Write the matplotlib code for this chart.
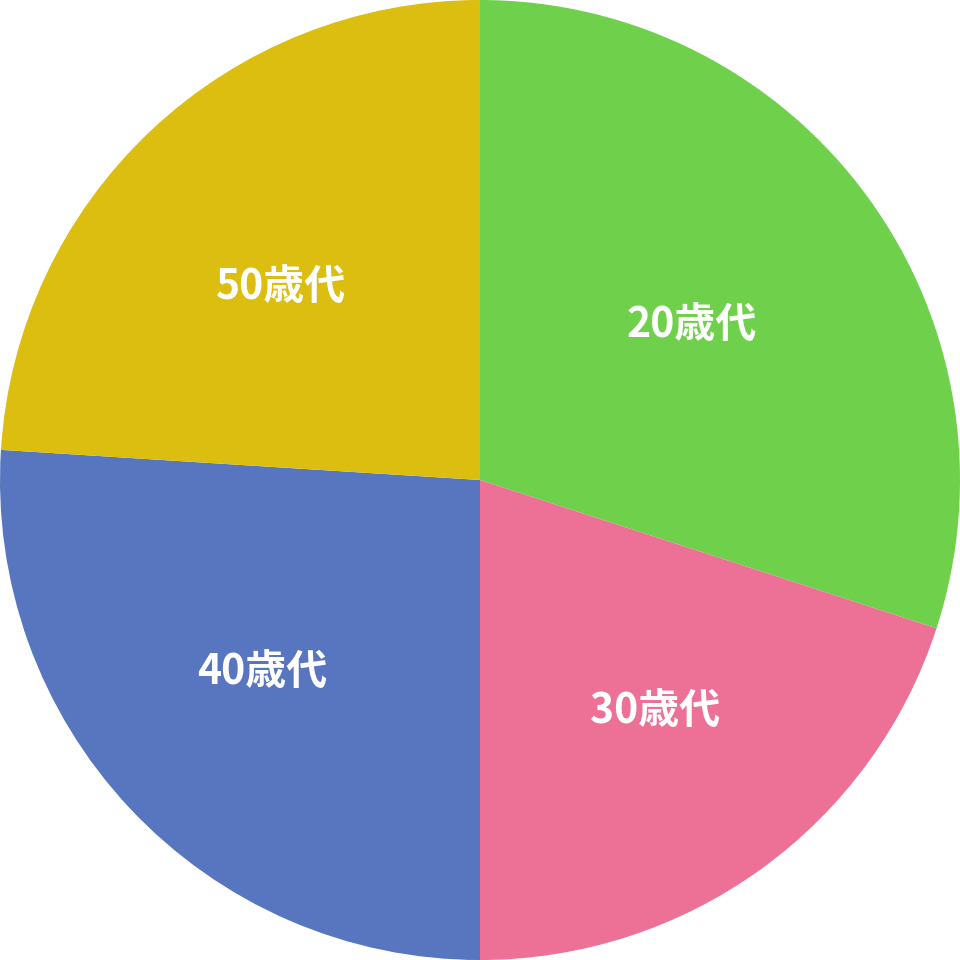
import matplotlib
matplotlib.use("Agg")
import matplotlib.pyplot as plt
import numpy as np

labels = ["20歳代", "30歳代", "40歳代", "50歳代"]
values = [30, 20, 26, 24]
colors = ["#6FD14B", "#ED7096", "#5876BF", "#DBBE10"]
# label placement style (radius fraction, angle nudge in degrees)
label_dist = [0.546, 0.605, 0.607, 0.575]
label_nudge = [0.0, 1.0, -1.7, 2.8]

plt.rcParams['font.family'] = ['Noto Sans CJK JP', 'DejaVu Sans']

fig = plt.figure(figsize=(9.6, 9.6), dpi=100)
ax = fig.add_axes([0, 0, 1, 1])
wedges, _ = ax.pie(values, colors=colors, startangle=90,
                   counterclock=False, radius=1.0,
                   wedgeprops=dict(linewidth=0))
for w, lab, d, nd in zip(wedges, labels, label_dist, label_nudge):
    ang = np.deg2rad((w.theta1 + w.theta2) / 2 + nd)
    ax.text(d * np.cos(ang), d * np.sin(ang), lab, color="white",
            fontsize=29.5, fontweight="bold", ha="center", va="center")
ax.set_xlim(-1, 1)
ax.set_ylim(-1, 1)
ax.set_aspect("equal")
ax.axis("off")
fig.savefig("out.png", dpi=100)
